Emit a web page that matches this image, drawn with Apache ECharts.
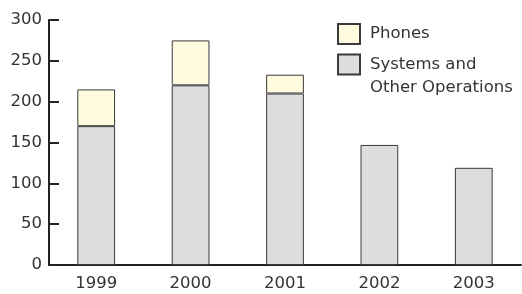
<!DOCTYPE html>
<html>
<head>
<meta charset="utf-8">
<script src="https://cdn.jsdelivr.net/npm/echarts@6/dist/echarts.min.js"></script>
<style>
  html, body { margin: 0; padding: 0; background: #ffffff; }
  #chart { width: 522px; height: 294px; }
</style>
</head>
<body>
<div id="chart"></div>
<script>
// chart data
const years = ['1999', '2000', '2001', '2002', '2003'];
const systemsValues = [170, 220, 210, 147, 119];
const phonesValues = [45, 55, 23, '-', '-'];
const yTicks = { min: 0, max: 300, step: 50 };

const fontFamily = '"DejaVu Sans", sans-serif';
const textColor = '#333';

const chart = echarts.init(document.getElementById('chart'));

const option = {
  animation: false,
  backgroundColor: '#ffffff',
  grid: { left: 49, right: 1, top: 20, bottom: 29 },
  legend: [
    {
      data: ['Phones'],
      left: 337,
      top: 23,
      padding: 0,
      icon: 'rect',
      itemWidth: 22,
      itemHeight: 20,
      selectedMode: false,
      textStyle: { fontFamily, fontSize: 16.5, color: textColor, lineHeight: 20, padding: [0, 0, 0, 5] }
    },
    {
      data: ['Systems and Other Operations'],
      left: 337,
      top: 30,
      padding: 0,
      icon: 'rect',
      itemWidth: 22,
      itemHeight: 20,
      selectedMode: false,
      // blank first line keeps the box level with "Systems and"
      formatter: () => ' \nSystems and\nOther Operations',
      textStyle: { fontFamily, fontSize: 16.5, color: textColor, lineHeight: 23, padding: [0, 0, 0, 5] }
    }
  ],
  xAxis: {
    type: 'category',
    data: years,
    axisLine: { lineStyle: { color: '#222', width: 2 } },
    axisTick: { inside: true, length: 5, lineStyle: { color: '#222', width: 2 } },
    axisLabel: { fontFamily, fontSize: 16.5, color: textColor, margin: 10 }
  },
  yAxis: {
    type: 'value',
    min: yTicks.min,
    max: yTicks.max,
    interval: yTicks.step,
    splitLine: { show: false },
    axisLine: { show: true, lineStyle: { color: '#222', width: 2 } },
    axisTick: { show: true, inside: true, length: 10, lineStyle: { color: '#222', width: 2 } },
    axisLabel: { fontFamily, fontSize: 16.5, color: textColor, margin: 7 }
  },
  series: [
    {
      name: 'Systems and Other Operations',
      type: 'bar',
      stack: 'total',
      barWidth: '40%',
      data: systemsValues,
      itemStyle: { color: '#dcdddf', borderColor: '#3a3a3a', borderWidth: 1 }
    },
    {
      name: 'Phones',
      type: 'bar',
      stack: 'total',
      barWidth: '40%',
      data: phonesValues,
      itemStyle: { color: '#fffbdf', borderColor: '#3a3a3a', borderWidth: 1 }
    }
  ]
};

chart.setOption(option);
</script>
</body>
</html>
